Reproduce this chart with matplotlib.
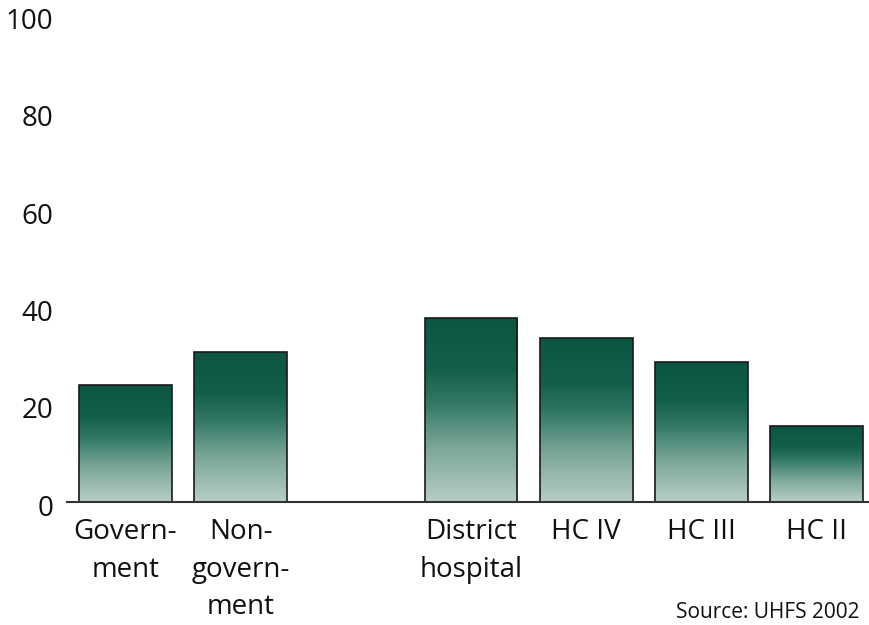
import numpy as np
import matplotlib
matplotlib.use("Agg")
import matplotlib.pyplot as plt
from matplotlib.colors import LinearSegmentedColormap
from matplotlib.transforms import ScaledTranslation

categories = ["Govern-\nment", "Non-\ngovern-\nment", "District\nhospital", "HC IV", "HC III", "HC II"]
positions = [0, 1, 3, 4, 5, 6]
values = [23.9, 30.8, 37.7, 33.7, 28.7, 15.6]
yticks = [0, 20, 40, 60, 80, 100]
source = "Source: UHFS 2002"

plt.rcParams['font.family'] = ['Open Sans', 'DejaVu Sans']

fig = plt.figure(figsize=(8.69, 6.25), dpi=100)
ax = fig.add_axes([67/869, 123.5/625, 1 - 67/869, (501.5 - 15)/625])

cmap = LinearSegmentedColormap.from_list(
    "g", [(0.0, "#b7cdc5"), (0.3, "#78a597"), (0.55, "#2f7663"),
          (0.72, "#145f4b"), (1.0, "#0b5542")])

width = 0.807
bars = ax.bar(positions, values, width=width, facecolor="none",
              edgecolor="#1a1a1a", linewidth=1.2, zorder=3)
grad = np.linspace(0, 1, 256).reshape(-1, 1)
for b in bars:
    x0 = b.get_x(); x1 = x0 + b.get_width(); h = b.get_height()
    im = ax.imshow(grad, cmap=cmap, origin="lower", aspect="auto",
                   extent=[x0, x1, 0, h], zorder=2, interpolation="bilinear")
    im.set_clip_path(b)

ax.set_xlim(-0.508, 6.456)
ax.set_ylim(0, 100)
ax.set_yticks(yticks)
ax.set_yticklabels([str(t) for t in yticks])
ax.set_xticks(positions)
ax.set_xticklabels(categories, linespacing=1.45)
ax.tick_params(axis="both", length=0, labelsize=20, colors="#111111")
ax.tick_params(axis="y", pad=10)
ax.tick_params(axis="x", pad=12)
for lab in ax.get_yticklabels():
    lab.set_transform(lab.get_transform() + ScaledTranslation(0, -3.5/100, fig.dpi_scale_trans))

for s in ["left", "right", "top"]:
    ax.spines[s].set_visible(False)
ax.spines["bottom"].set_color("#333333")
ax.spines["bottom"].set_linewidth(1.5)
ax.spines["bottom"].set_zorder(4)

fig.text(676/869, 7/625, source, fontsize=15, ha="left", va="baseline", color="#111111")

fig.savefig("out.png", dpi=100)
